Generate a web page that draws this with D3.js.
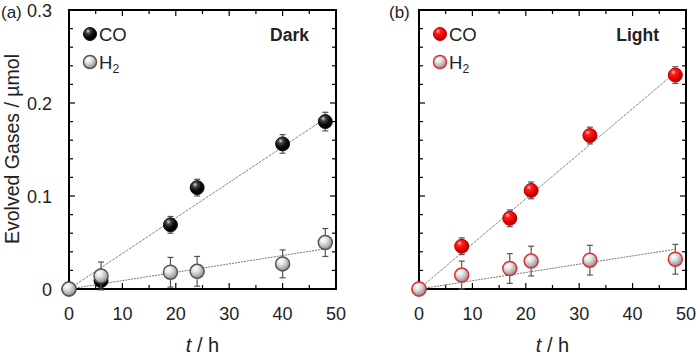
<!DOCTYPE html>
<html><head><meta charset="utf-8">
<script src="https://cdn.jsdelivr.net/npm/d3@7"></script>
<style>body{margin:0;background:#fff}svg{display:block;font-family:"Liberation Sans",Arial,sans-serif}</style>
</head><body><svg id="c" width="700" height="356"></svg>
<script>
// Data
const darkT   = [0, 6, 19, 24, 40, 48];
const darkCO  = [0, 0.009, 0.069, 0.109, 0.156, 0.180];
const darkCOerr = [0.004, 0.006, 0.009, 0.009, 0.010, 0.010];
const darkH2  = [0, 0.014, 0.018, 0.019, 0.027, 0.050];
const darkH2err = [0.006, 0.015, 0.016, 0.016, 0.015, 0.015];
const darkFitCO = 0.00382, darkFitH2 = 0.0009;

const lightT   = [0, 8, 17, 21, 32, 48];
const lightCO  = [0, 0.046, 0.076, 0.106, 0.165, 0.230];
const lightCOerr = [0.004, 0.009, 0.009, 0.009, 0.009, 0.009];
const lightH2  = [0, 0.015, 0.022, 0.030, 0.031, 0.032];
const lightH2err = [0.006, 0.015, 0.016, 0.016, 0.016, 0.016];
const lightFitCO = 0.00485, lightFitH2 = 0.00089;

const xTicks = [0, 10, 20, 30, 40, 50];
const yTicks = [0, 0.1, 0.2, 0.3];
const yTickLabels = ["0", "0.1", "0.2", "0.3"];

const svg = d3.select("#c");
const defs = svg.append("defs");
function grad(id, stops) {
  const g = defs.append("radialGradient").attr("id", id)
    .attr("cx", "38%").attr("cy", "32%").attr("r", "70%").attr("fx", "35%").attr("fy", "28%");
  stops.forEach(s => g.append("stop").attr("offset", s[0]).attr("stop-color", s[1]));
}
grad("gBlack", [["0%", "#d8d8d8"], ["25%", "#444"], ["60%", "#0a0a0a"], ["100%", "#000"]]);
grad("gGray", [["0%", "#ffffff"], ["35%", "#e6e6e6"], ["80%", "#a8a8a8"], ["100%", "#888"]]);
grad("gRed", [["0%", "#ffc8c8"], ["25%", "#ff2020"], ["70%", "#e00000"], ["100%", "#a00000"]]);

const txt = "#222";

function panel(opts) {
  const L = opts.left, R = opts.right, T = 10, B = 289;
  const x = d3.scaleLinear().domain([0, 50]).range([L, R]);
  const y = d3.scaleLinear().domain([0, 0.3]).range([B, T]);
  const g = svg.append("g");

  // ticks (inward)
  const xMinor = d3.range(0, 51, 5);
  const yMinor = d3.range(0, 0.3001, 0.02);
  const tk = g.append("g").attr("stroke", "#000").attr("stroke-width", 1.2);
  xMinor.forEach(v => {
    const len = v % 10 === 0 ? 6 : 4;
    tk.append("line").attr("x1", x(v)).attr("x2", x(v)).attr("y1", B).attr("y2", B - len);
    tk.append("line").attr("x1", x(v)).attr("x2", x(v)).attr("y1", T).attr("y2", T + len);
  });
  yMinor.forEach(v => {
    const major = Math.abs(v * 10 - Math.round(v * 10)) < 1e-6;
    const len = major ? 6 : 4;
    tk.append("line").attr("y1", y(v)).attr("y2", y(v)).attr("x1", L).attr("x2", L + len);
    tk.append("line").attr("y1", y(v)).attr("y2", y(v)).attr("x1", R).attr("x2", R - len);
  });
  g.append("rect").attr("x", L).attr("y", T).attr("width", R - L).attr("height", B - T)
    .attr("fill", "none").attr("stroke", "#000").attr("stroke-width", 2);

  // x tick labels
  g.selectAll(".xl").data(xTicks).enter().append("text")
    .attr("x", d => x(d)).attr("y", 320).attr("text-anchor", "middle")
    .attr("font-size", 18).attr("fill", txt).text(d => d);
  if (opts.yLabels) {
    g.selectAll(".yl").data(yTicks).enter().append("text")
      .attr("x", L - 17).attr("y", d => y(d) + 6.5).attr("text-anchor", "end")
      .attr("font-size", 18).attr("fill", txt).text((d, i) => yTickLabels[i]);
  }
  // x title
  const xt = g.append("text").attr("x", (L + R) / 2).attr("y", 352).attr("text-anchor", "middle")
    .attr("font-size", 20).attr("fill", txt);
  xt.append("tspan").attr("font-style", "italic").text("t");
  xt.append("tspan").text(" / h");

  // panel tag
  g.append("text").attr("x", opts.tagX).attr("y", 18).attr("font-size", 17).attr("fill", txt).text(opts.tag);

  // fit lines
  const fit = (k, dash, col) => g.append("line")
    .attr("x1", x(0)).attr("y1", y(0)).attr("x2", x(48)).attr("y2", y(k * 48))
    .attr("stroke", col).attr("stroke-width", 1).attr("stroke-dasharray", dash);
  fit(opts.fitCO, "3,1", "#888");
  fit(opts.fitH2, "2,1", "#777");

  function series(ts, vals, errs, fill, stroke, sw) {
    const eg = g.append("g").attr("stroke", "#555").attr("stroke-width", 1.2);
    ts.forEach((t, i) => {
      const cx = x(t), y1 = y(vals[i] + errs[i]), y2 = y(vals[i] - errs[i]);
      eg.append("line").attr("x1", cx).attr("x2", cx).attr("y1", y1).attr("y2", y2);
      eg.append("line").attr("x1", cx - 3).attr("x2", cx + 3).attr("y1", y1).attr("y2", y1);
      eg.append("line").attr("x1", cx - 3).attr("x2", cx + 3).attr("y1", y2).attr("y2", y2);
    });
    g.selectAll(null).data(ts).enter().append("circle")
      .attr("cx", d => x(d)).attr("cy", (d, i) => y(vals[i])).attr("r", 7)
      .attr("fill", fill).attr("stroke", stroke).attr("stroke-width", sw);
  }
  series(opts.t, opts.co, opts.coErr, opts.coFill, opts.coStroke, 1);
  series(opts.t, opts.h2, opts.h2Err, "url(#gGray)", opts.h2Stroke, 1.5);

  // legend
  const lx = L + 21;
  g.append("circle").attr("cx", lx).attr("cy", 34).attr("r", 6.5).attr("fill", opts.coFill).attr("stroke", opts.coStroke);
  g.append("circle").attr("cx", lx).attr("cy", 62).attr("r", 6.5).attr("fill", "url(#gGray)").attr("stroke", opts.h2Stroke).attr("stroke-width", 1.5);
  g.append("text").attr("x", lx + 9).attr("y", 41).attr("font-size", 18.5).attr("fill", txt).text("CO");
  const h = g.append("text").attr("x", lx + 9).attr("y", 69).attr("font-size", 18.5).attr("fill", txt);
  h.append("tspan").text("H");
  h.append("tspan").attr("font-size", 12).attr("dy", 4).text("2");
  g.append("text").attr("x", R - 27).attr("y", 41).attr("text-anchor", "end")
    .attr("font-size", 17.5).attr("font-weight", "bold").attr("fill", txt).text(opts.label);
}

panel({left: 69, right: 336, tag: "(a)", tagX: 1, yLabels: true, label: "Dark",
  t: darkT, co: darkCO, coErr: darkCOerr, h2: darkH2, h2Err: darkH2err,
  fitCO: darkFitCO, fitH2: darkFitH2, coFill: "url(#gBlack)", coStroke: "#111", h2Stroke: "#555"});
panel({left: 419, right: 686, tag: "(b)", tagX: 389, yLabels: false, label: "Light",
  t: lightT, co: lightCO, coErr: lightCOerr, h2: lightH2, h2Err: lightH2err,
  fitCO: lightFitCO, fitH2: lightFitH2, coFill: "url(#gRed)", coStroke: "#c00000", h2Stroke: "#e03030"});

// y title
svg.append("text").attr("transform", "translate(19,149) rotate(-90)").attr("text-anchor", "middle")
  .attr("font-size", 19.5).attr("fill", txt).text("Evolved Gases / µmol");
</script></body></html>
